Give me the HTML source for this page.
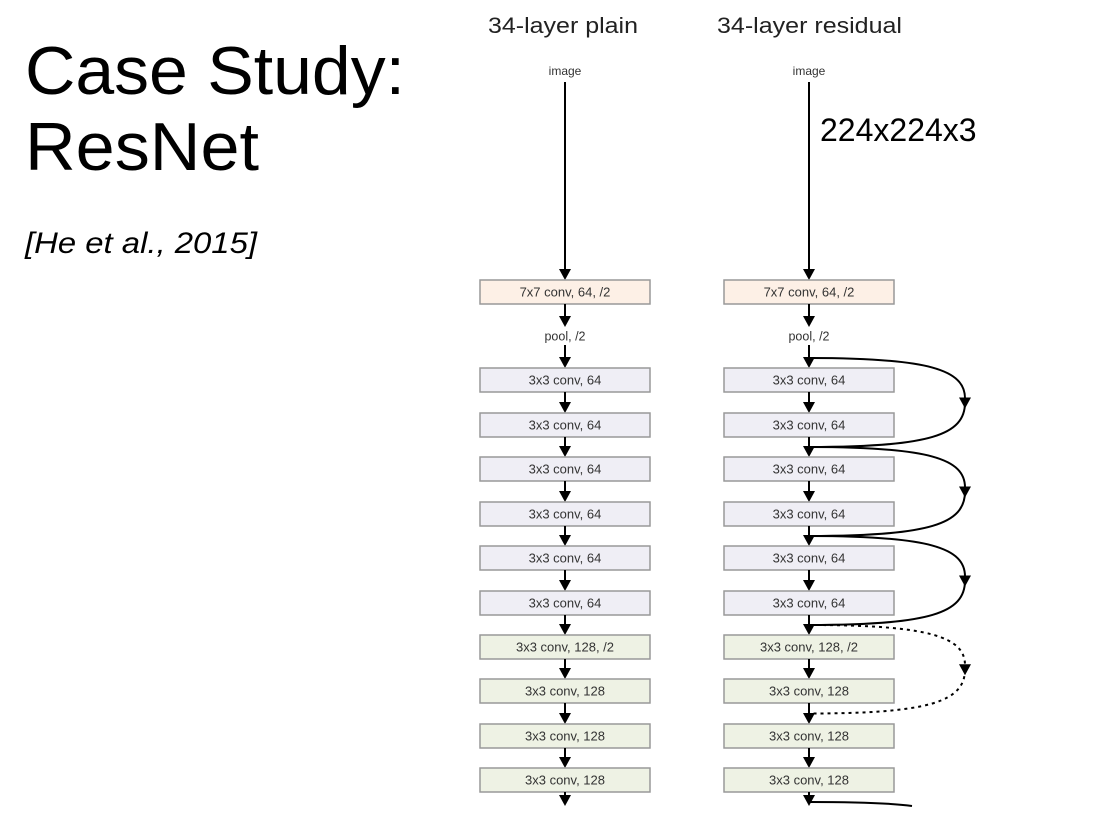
<!DOCTYPE html>
<html><head><meta charset="utf-8">
<style>
html,body{margin:0;padding:0;background:#fff;}
svg{display:block;font-family:"Liberation Sans",sans-serif;}
</style></head>
<body>
<svg id="s" width="1094" height="826" viewBox="0 0 1094 826">
<text x="25" y="94" font-size="68" fill="#000" textLength="380" lengthAdjust="spacingAndGlyphs">Case Study:</text>
<text x="25" y="170" font-size="68" fill="#000" textLength="234" lengthAdjust="spacingAndGlyphs">ResNet</text>
<text x="25" y="253" font-size="30" font-style="italic" fill="#000" textLength="232" lengthAdjust="spacingAndGlyphs">[He et al., 2015]</text>
<text x="488" y="33" font-size="22" fill="#222" textLength="150" lengthAdjust="spacingAndGlyphs">34-layer plain</text>
<text x="717" y="33" font-size="22" fill="#222" textLength="185" lengthAdjust="spacingAndGlyphs">34-layer residual</text>
<text x="565" y="75" font-size="12" text-anchor="middle" fill="#333">image</text>
<text x="809" y="75" font-size="12" text-anchor="middle" fill="#333">image</text>
<text x="820" y="141" font-size="32" fill="#000">224x224x3</text>
<g id="g"></g>
</svg>
<script>
const labels=["7x7 conv, 64, /2","pool, /2","3x3 conv, 64","3x3 conv, 64","3x3 conv, 64","3x3 conv, 64","3x3 conv, 64","3x3 conv, 64","3x3 conv, 128, /2","3x3 conv, 128","3x3 conv, 128","3x3 conv, 128"];
const kinds=["conv7","pool","c64","c64","c64","c64","c64","c64","c128","c128","c128","c128"];
const rowY=[292,336,380,425,469,514,558,603,647,691,736,780];
const skipFrom=[2,4,6,8,10];
const skipDashed=[false,false,false,true,false];
const fills={conv7:"#fdf0e6",c64:"#efeef5",c128:"#eef2e4"};
const cols=[565,809];
const NS="http://www.w3.org/2000/svg";
const g=document.getElementById('g');
function mk(t,a){const e=document.createElementNS(NS,t);for(const k in a)e.setAttribute(k,a[k]);g.appendChild(e);return e;}
function head(x,y){return mk('polygon',{points:`${x-6},${y-11} ${x+6},${y-11} ${x},${y}`,fill:'#000'});}
cols.forEach((cx,ci)=>{
  const side=ci?'residual':'plain';
  let l=mk('line',{x1:cx,y1:82,x2:cx,y2:270,stroke:'#000','stroke-width':2});
  
  
  head(cx,280);
  labels.forEach((lab,i)=>{
    const y=rowY[i];
    if(kinds[i]!=='pool'){
      const r=mk('rect',{x:cx-85,y:y-12,width:170,height:24,fill:fills[kinds[i]],stroke:'#999','stroke-width':1.5});
      
      
    }
    const t=mk('text',{x:cx,y:y+4.5,'font-size':kinds[i]==='pool'?12.5:13,'text-anchor':'middle',fill:'#333'});
    t.textContent=lab;
    
    
    const y1=y+(kinds[i]==='pool'?9:12);
    const y2=i<labels.length-1?rowY[i+1]-(kinds[i+1]==='pool'?9:12):y+26;
    const a=mk('line',{x1:cx,y1:y1,x2:cx,y2:y2-6,stroke:'#000','stroke-width':2});
    
    
    head(cx,y2);
  });
});
const cx=809;
skipFrom.forEach((i,k)=>{
  const y0=(rowY[i-1]+rowY[i])/2, y1=(rowY[i+1]+rowY[i+2])/2, ym=(y0+y1)/2;
  const dash=skipDashed[k]?'3,4':'none';
  const p=mk('path',{d:`M${cx},${y0} C930,${y0} 965,${y0+12} 965,${ym-4} M965,${ym} C965,${y1-12} 930,${y1} ${cx},${y1}`,fill:'none',stroke:'#000','stroke-width':2,'stroke-dasharray':dash});
  
  
  const h=head(965,ym+6);
  
  
});
const last=mk('path',{d:`M${cx},802 C860,802 890,803 912,806`,fill:'none',stroke:'#000','stroke-width':2});


</script>
</body></html>
